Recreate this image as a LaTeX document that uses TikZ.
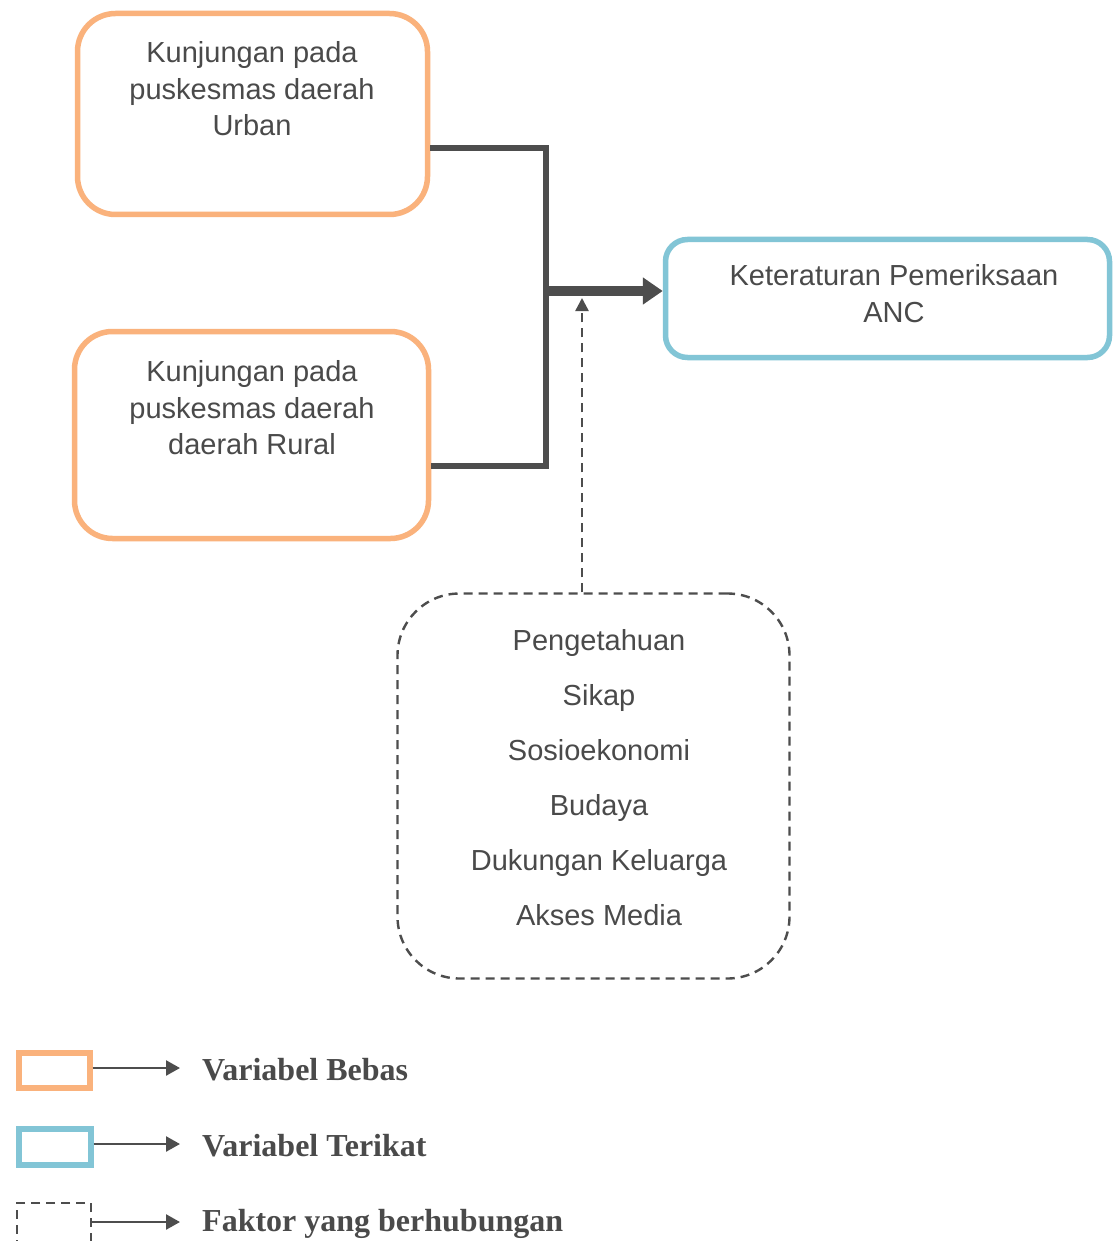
\documentclass[tikz,border=0pt]{standalone}
\usepackage{fontspec}
\setmainfont{Liberation Sans}
\newfontfamily\legendfont{Liberation Serif}
\usetikzlibrary{arrows.meta}

\definecolor{orangeline}{HTML}{FAB27C}
\definecolor{blueline}{HTML}{82C5D6}
\definecolor{darkline}{HTML}{4D4D4D}
\definecolor{txt}{HTML}{4A4A4A}

\tikzset{
  varbox/.style={draw, rounded corners=#1, inner sep=0pt},
  bebas/.style={varbox=38pt, draw=orangeline, line width=5.5pt},
  terikat/.style={varbox=22pt, draw=blueline, line width=5.5pt},
  faktor/.style={varbox=62pt, draw=darkline, line width=2.4pt, dash pattern=on 9pt off 6pt},
  boxtext/.style={text=txt, align=center, inner sep=0pt, anchor=north,
    font=\fontsize{29}{36.5}\selectfont},
  listtext/.style={text=txt, align=center, inner sep=0pt, anchor=north,
    font=\fontsize{29}{55}\selectfont},
  conn/.style={draw=darkline, line width=6pt},
  mainarrow/.style={draw=darkline, line width=10pt, -{Triangle[length=20pt,width=26pt]}},
  dasharrow/.style={draw=darkline, line width=2.4pt, dash pattern=on 9pt off 6pt,
    -{Triangle[length=13pt,width=13pt]}},
  keybox/.style={line width=6pt, minimum width=71pt, minimum height=35pt, inner sep=0pt},
  keyarrow/.style={draw=darkline, line width=2.4pt, -{Triangle[length=14pt,width=15pt]}},
  keytext/.style={text=txt, anchor=base west, inner sep=0pt,
    font=\legendfont\bfseries\fontsize{32}{38}\selectfont},
}

\begin{document}
\begin{tikzpicture}[x=1pt, y=-1pt]
  \clip (0,0) rectangle (1113,1241);
  \fill[white] (0,0) rectangle (1113,1241);

  % independent variables
  \node[bebas, minimum width=350pt, minimum height=201pt] (urban) at (252.5,114) {};
  \node[boxtext] (urbantxt) at (252,41.5) {Kunjungan pada\\puskesmas daerah\\Urban};
  \node[bebas, minimum width=354pt, minimum height=207pt] (rural) at (251.5,435) {};
  \node[boxtext] (ruraltxt) at (252,360.5) {Kunjungan pada\\puskesmas daerah\\daerah Rural};

  % dependent variable
  \node[terikat, minimum width=444pt, minimum height=118pt] (anc) at (887.5,298.5) {};
  \node[boxtext] (anctxt) at (894,264.5) {Keteraturan Pemeriksaan\\ANC};

  % related factors
  \node[faktor, minimum width=392pt, minimum height=385pt] (factors) at (593.5,786) {};
  \node[listtext] (factortxt) at (599,629) {Pengetahuan\\Sikap\\Sosioekonomi\\Budaya\\Dukungan Keluarga\\Akses Media};

  % connectors
  \coordinate (join) at (546,291);
  \coordinate (hit) at (582,298);
  \draw[conn] ([yshift=-34pt]urban.east) -| (join) |- ([yshift=-31pt]rural.east);
  \draw[mainarrow] ([xshift=-3pt]join) -- (join -| anc.west);
  \draw[dasharrow] (factors.north -| hit) -- (hit);

  % legend
  \node[keybox, draw=orangeline] (kbebas) at (54,1070) {};
  \node[keybox, draw=blueline, minimum width=72pt, minimum height=36pt] (kterikat) at (54.5,1146.5) {};
  \node[draw=darkline, line width=2.6pt, dash pattern=on 9pt off 6pt, minimum width=74pt, minimum height=40pt, inner sep=0pt] (kfaktor) at (54,1223) {};

  \coordinate (ebebas) at (180,1068);
  \coordinate (eterikat) at (180,1144);
  \coordinate (efaktor) at (180,1222);
  \draw[keyarrow] (kbebas.east |- ebebas) -- (ebebas);
  \draw[keyarrow] (kterikat.east |- eterikat) -- (eterikat);
  \draw[keyarrow] (kfaktor.east |- efaktor) -- (efaktor);

  \node[keytext] (lbebas) at (202,1080) {Variabel Bebas};
  \node[keytext] (lterikat) at (202,1156) {Variabel Terikat};
  \node[keytext] (lfaktor) at (202,1231.5) {Faktor yang berhubungan};
\end{tikzpicture}
\end{document}
